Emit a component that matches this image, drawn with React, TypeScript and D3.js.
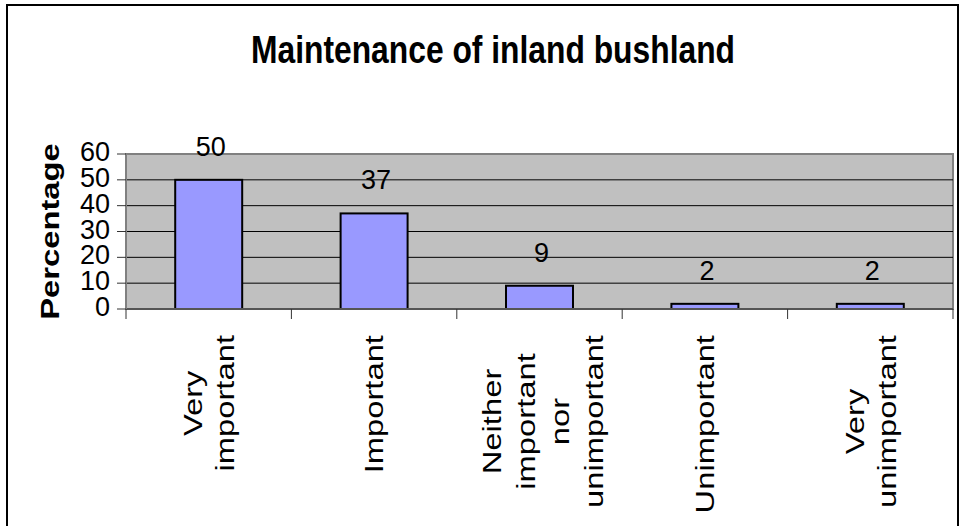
import React from "react";
import * as d3 from "d3";

const title = "Maintenance of inland bushland";
const yTitle = "Percentage";
const categories = [
  "Very important",
  "Important",
  "Neither important nor unimportant",
  "Unimportant",
  "Very unimportant",
];
const categoryLines = [
  ["Very", "important"],
  ["Important"],
  ["Neither", "important", "nor", "unimportant"],
  ["Unimportant"],
  ["Very", "unimportant"],
];
const values = [50, 37, 9, 2, 2];
const yTicks = [0, 10, 20, 30, 40, 50, 60];

const W = 963;
const H = 526;
const FONT = "'Liberation Sans', Arial, Helvetica, sans-serif";

function measure(text: string, size: number, weight = "normal"): number {
  if (typeof document === "undefined") return text.length * size * 0.5;
  const c = document.createElement("canvas").getContext("2d");
  if (!c) return text.length * size * 0.5;
  c.font = `${weight} ${size}px 'Liberation Sans', Arial, sans-serif`;
  return c.measureText(text).width;
}

export default function App() {
  const plot = { left: 126, right: 953, top: 154, bottom: 309 };
  const x = d3
    .scaleBand<string>()
    .domain(categories)
    .range([plot.left, plot.right])
    .paddingInner(0)
    .paddingOuter(0);
  const y = d3.scaleLinear().domain([0, 60]).range([plot.bottom, plot.top]);
  const bw = x.bandwidth();
  const barW = bw * 0.405;
  const boundaries = categories.map((c) => x(c) as number).concat([plot.right]);

  const labelSize = 26;
  const stretch = 1.26;
  const lineGap = 32;

  return (
    <svg
      width={W}
      height={H}
      style={{ position: "absolute", left: 0, top: 0, background: "#fff" }}
      fontFamily={FONT}
    >
      <rect x={0} y={0} width={W} height={H} fill="#fff" />
      <rect x={7} y={5} width={951} height={545} fill="none" stroke="#000" strokeWidth={2} />

      <text
        x={493}
        y={63}
        textAnchor="middle"
        fontSize={39}
        fontWeight="bold"
        textLength={484}
        lengthAdjust="spacingAndGlyphs"
        fill="#000"
      >
        {title}
      </text>

      {/* plot area */}
      <rect
        x={plot.left}
        y={plot.top}
        width={plot.right - plot.left}
        height={plot.bottom - plot.top}
        fill="#C0C0C0"
        stroke="#808080"
        strokeWidth={2}
      />
      {yTicks
        .filter((t) => t > 0 && t < 60)
        .map((t) => (
          <line
            key={"g" + t}
            x1={plot.left}
            x2={plot.right}
            y1={y(t)}
            y2={y(t)}
            stroke="#000"
            strokeWidth={1}
          />
        ))}

      {/* bars */}
      {categories.map((c, i) => {
        const cx = (x(c) as number) + bw / 2;
        return (
          <rect
            key={"b" + i}
            x={cx - barW / 2}
            y={y(values[i])}
            width={barW}
            height={y(0) - y(values[i])}
            fill="#9999FF"
            stroke="#000"
            strokeWidth={2}
          />
        );
      })}

      {/* axes */}
      <line x1={plot.left} x2={plot.right} y1={plot.bottom} y2={plot.bottom} stroke="#555" strokeWidth={2} />
      <line x1={plot.left} x2={plot.left} y1={plot.top} y2={plot.bottom} stroke="#808080" strokeWidth={2} />
      {boundaries.map((bx, i) => (
        <line key={"xt" + i} x1={bx} x2={bx} y1={plot.bottom} y2={plot.bottom + 10} stroke="#333" strokeWidth={1} />
      ))}
      {yTicks.map((t) => (
        <g key={"yt" + t}>
          <line x1={plot.left - 9} x2={plot.left} y1={y(t)} y2={y(t)} stroke="#333" strokeWidth={1} />
          <text x={110} y={y(t) + 7} textAnchor="end" fontSize={27} fill="#000">
            {t}
          </text>
        </g>
      ))}

      {/* data labels */}
      {categories.map((c, i) => {
        const cx = (x(c) as number) + bw / 2;
        return (
          <text key={"dl" + i} x={cx + 2} y={y(values[i]) - 24} textAnchor="middle" fontSize={27} fill="#000">
            {values[i]}
          </text>
        );
      })}

      {/* y axis title */}
      <g transform={`translate(59, ${(plot.top + plot.bottom) / 2}) scale(1, ${stretch}) rotate(-90)`}>
        <text x={0} y={0} textAnchor="middle" fontSize={26} fontWeight="bold" fill="#000">
          {yTitle}
        </text>
      </g>

      {/* category labels */}
      {categories.map((c, i) => {
        const lines = categoryLines[i];
        const n = lines.length;
        const cx = (x(c) as number) + bw / 2 + (n > 2 ? 3 : 0);
        const L = Math.max(...lines.map((l) => measure(l, labelSize)));
        const gap = n > 2 ? 34 : lineGap;
        return (
          <g key={"cl" + i} transform={`translate(${cx}, 335) scale(1, ${stretch}) rotate(-90)`}>
            {lines.map((l, j) => (
              <text
                key={j}
                x={-L / 2}
                y={(j - (n - 1) / 2) * gap + 9.3}
                textAnchor="middle"
                fontSize={labelSize}
                fill="#000"
              >
                {l}
              </text>
            ))}
          </g>
        );
      })}
    </svg>
  );
}
